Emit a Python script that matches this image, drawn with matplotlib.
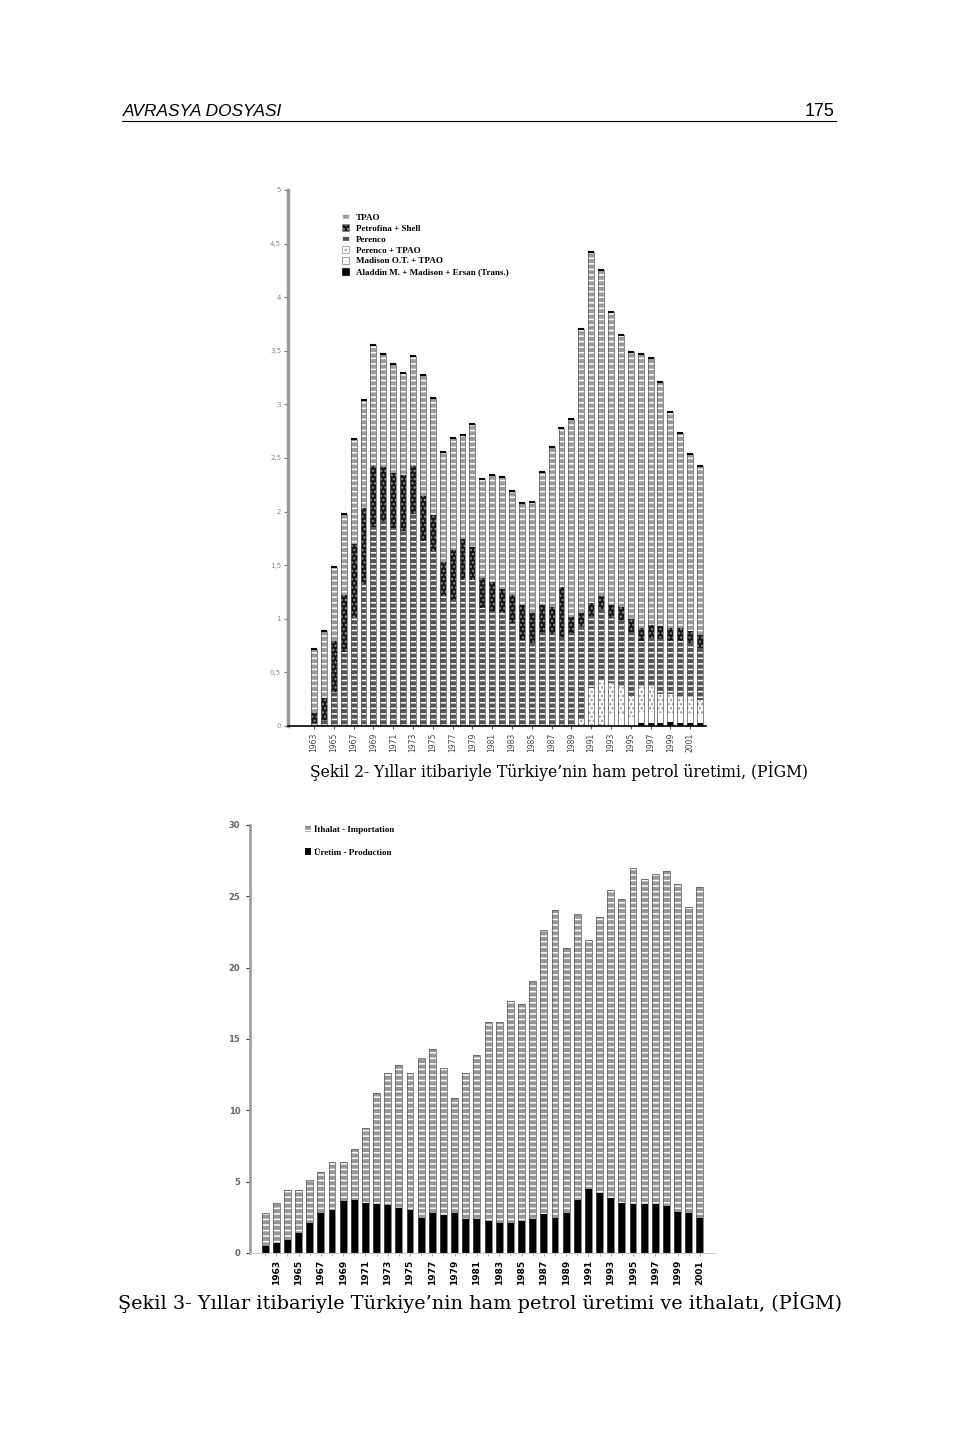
#!/usr/bin/env python3
import numpy as np
from matplotlib import pyplot as plt
from matplotlib.patches import Patch
from matplotlib.lines import Line2D

# ---- Şekil 2: crude oil production by company (million tons), 1963-2002
years1 = list(range(1963, 2003))
aladdin = [0]*33 + [0.03, 0.03, 0.03, 0.04, 0.03, 0.03, 0.03]
madison = [0]*30 + [0.10, 0.10, 0.08, 0.10, 0.10, 0.09, 0.08, 0.07, 0.07, 0.06]
perenco_tpao = [0]*27 + [0.06, 0.35, 0.43, 0.30, 0.26, 0.20, 0.23, 0.23, 0.18, 0.18, 0.16, 0.16, 0.15]
perenco = [0.03, 0.06, 0.32, 0.69, 1.02, 1.32, 1.86, 1.91, 1.85, 1.82,
           1.98, 1.73, 1.63, 1.21, 1.18, 1.36, 1.36, 1.10, 1.07, 1.05,
           0.96, 0.80, 0.77, 0.88, 0.86, 0.83, 0.87, 0.87, 0.68, 0.66,
           0.61, 0.63, 0.60, 0.43, 0.46, 0.51, 0.49, 0.53, 0.51, 0.49]
petrofina_shell = [0.09, 0.20, 0.47, 0.53, 0.68, 0.71, 0.57, 0.51, 0.51, 0.52,
                   0.45, 0.42, 0.34, 0.32, 0.46, 0.38, 0.31, 0.28, 0.27, 0.23,
                   0.26, 0.33, 0.28, 0.25, 0.25, 0.47, 0.15, 0.12, 0.12, 0.12,
                   0.12, 0.12, 0.12, 0.12, 0.12, 0.12, 0.12, 0.12, 0.12, 0.12]
tpao = [0.60, 0.63, 0.69, 0.76, 0.98, 1.01, 1.12, 1.05, 1.02, 0.95,
        1.02, 1.12, 1.09, 1.03, 1.05, 0.97, 1.15, 0.92, 1.00, 1.04,
        0.97, 0.95, 1.04, 1.24, 1.49, 1.48, 1.84, 2.65, 3.27, 3.04,
        2.73, 2.54, 2.49, 2.56, 2.49, 2.28, 2.02, 1.82, 1.65, 1.58]
# legend order, top entry first
legend1 = ['TPAO', 'Petrofina + Shell', 'Perenco', 'Perenco + TPAO',
           'Madison O.T. + TPAO', 'Aladdin M. + Madison + Ersan (Trans.)']

# ---- Şekil 3: production and imports (million tons), 1962-2001
years2 = list(range(1962, 2002))
production = [0.49, 0.72, 0.89, 1.42, 2.08, 2.83, 2.99, 3.64, 3.69, 3.53,
              3.41, 3.36, 3.18, 2.99, 2.48, 2.83, 2.66, 2.83, 2.36, 2.36,
              2.24, 2.13, 2.13, 2.24, 2.36, 2.71, 2.48, 2.83, 3.71, 4.46,
              4.22, 3.88, 3.53, 3.41, 3.41, 3.41, 3.29, 2.87, 2.78, 2.48]
total2 = [2.83, 3.53, 4.39, 4.39, 5.11, 5.68, 6.38, 6.38, 7.27, 8.74,
          11.19, 12.59, 13.17, 12.59, 13.64, 14.27, 12.99, 10.84, 12.59, 13.88,
          16.21, 16.21, 17.66, 17.47, 19.06, 22.63, 24.01, 21.35, 23.73, 21.91,
          23.55, 25.44, 24.79, 26.96, 26.23, 26.58, 26.77, 25.88, 24.25, 25.65]
legend2 = ['İthalat - Importation', 'Üretim - Production']

W, H = 960, 1432


def rect(l, t, r, b):
    return [l/W, 1 - b/H, (r - l)/W, (b - t)/H]


def fit(txt, width_px, renderer):
    w = txt.get_window_extent(renderer).width
    txt.set_fontsize(txt.get_fontsize() * width_px / w)


def main():
    plt.rcParams['hatch.linewidth'] = 1.1
    fig = plt.figure(figsize=(W/100, H/100), dpi=100)

    # header
    h1 = fig.text(123/W, 1 - 116/H, 'AVRASYA DOSYASI', ha='left', va='baseline',
                  family=['Liberation Sans Narrow', 'Liberation Sans'], style='italic', fontsize=12)
    h2 = fig.text(834/W, 1 - 116/H, '175', ha='right', va='baseline',
                  family=['Liberation Sans Narrow', 'Liberation Sans'], fontsize=12)
    fig.add_artist(Line2D([122/W, 836/W], [1 - 121/H, 1 - 121/H], color='black', lw=0.8))

    # ---------- chart 1 (stacked bottom to top)
    ax1 = fig.add_axes(rect(288, 190, 706, 726))
    x1 = np.arange(len(years1))
    styles = [
        (aladdin, dict(color='black', edgecolor='black')),
        (madison, dict(color='white', edgecolor='#777777')),
        (perenco_tpao, dict(color='white', edgecolor='#9a9a9a', hatch='....')),
        (perenco, dict(color='#555555', edgecolor='white', hatch='---')),
        (petrofina_shell, dict(color='#151515', edgecolor='#8a8a8a', hatch='....')),
        (tpao, dict(color='#9c9c9c', edgecolor='white', hatch='---')),
    ]
    bottom = np.zeros(len(x1))
    for vals, st in styles:
        vals = np.array(vals)
        ax1.bar(x1, vals, 0.6, bottom=bottom, linewidth=0, **st)
        bottom += vals
    ax1.bar(x1, bottom, 0.6, fill=False, edgecolor='#555555', linewidth=0.5)
    ax1.plot(x1, bottom, linestyle='none', marker='_', markersize=5, color='black', mew=1.5)

    ax1.set_xlim(-2.63, 39.6)
    ax1.set_ylim(0, 5)
    yt = np.arange(0, 5.01, 0.5)
    ax1.set_yticks(yt)
    ax1.set_yticklabels([f'{v:g}'.replace('.', ',') for v in yt])
    ax1.tick_params(axis='y', labelsize=5, labelcolor='#888888', color='#777777', length=3, pad=2)
    ax1.set_xticks(x1[::2])
    ax1.set_xticklabels([str(y) for y in years1[::2]], rotation=90, fontsize=5.5, color='#444444')
    ax1.tick_params(axis='x', length=2, pad=3, color='#555555')
    for s in ['top', 'right']:
        ax1.spines[s].set_visible(False)
    ax1.spines['left'].set_color('#999999')
    ax1.spines['left'].set_linewidth(2.5)
    ax1.spines['bottom'].set_color('black')
    ax1.spines['bottom'].set_linewidth(1.2)

    handles1 = [Patch(facecolor=st['color'], edgecolor=st['edgecolor'], hatch=st.get('hatch'), lw=0.5)
                for _, st in styles[::-1]]
    ax1.legend(handles1, legend1, loc='upper left', bbox_to_anchor=(337/W, 1 - 209/H),
               bbox_transform=fig.transFigure, frameon=False, handlelength=0.8, handleheight=0.8,
               handletextpad=0.8, labelspacing=0.25, borderpad=0,
               prop=dict(family='Liberation Serif', weight='bold', size=6.5))

    # ---------- chart 2
    ax2 = fig.add_axes(rect(250, 825, 715, 1253))
    x2 = np.arange(len(years2))
    imports = np.array(total2) - np.array(production)
    ax2.bar(x2, production, 0.62, color='black', linewidth=0)
    ax2.bar(x2, imports, 0.62, bottom=production, color='#979797', edgecolor='white',
            hatch='---', linewidth=0)
    ax2.bar(x2, total2, 0.62, fill=False, edgecolor='#555555', linewidth=0.5)
    ax2.set_xlim(-1.35, 40.35)
    ax2.set_ylim(0, 30)
    ax2.set_yticks(range(0, 31, 5))
    ax2.tick_params(axis='y', labelsize=6, labelcolor='#666666', color='#333333', length=3, pad=4)
    for lab in ax2.get_yticklabels():
        lab.set_fontweight('bold')
    ax2.set_xticks(x2[1::2])
    ax2.set_xticklabels([str(y) for y in years2[1::2]], rotation=90, fontsize=6.5,
                        fontweight='bold', color='black')
    ax2.set_xticks(x2, minor=True)
    ax2.tick_params(axis='x', which='both', length=2, pad=3, color='#aaaaaa')
    for s in ['top', 'right']:
        ax2.spines[s].set_visible(False)
    ax2.spines['left'].set_color('#a0a0a0')
    ax2.spines['left'].set_linewidth(2)
    ax2.spines['bottom'].set_color('#cccccc')
    ax2.spines['bottom'].set_linewidth(0.8)

    handles2 = [Patch(facecolor='#979797', edgecolor='white', hatch='---', lw=0),
                Patch(facecolor='black', edgecolor='black', lw=0)]
    ax2.legend(handles2, legend2, loc='upper left', bbox_to_anchor=(300/W, 1 - 820/H),
               bbox_transform=fig.transFigure, frameon=False, handlelength=0.7, handleheight=0.8,
               handletextpad=0.3, labelspacing=1.6, borderpad=0,
               prop=dict(family='Liberation Serif', weight='bold', size=6.5))

    # captions
    c1 = fig.text(559/W, 1 - 771/H, "Şekil 2- Yıllar itibariyle Türkiye’nin ham petrol üretimi, (PİGM)",
                  ha='center', va='center', family='DejaVu Serif', fontsize=12)
    c2 = fig.text(480.5/W, 1 - 1302/H,
                  "Şekil 3- Yıllar itibariyle Türkiye’nin ham petrol üretimi ve ithalatı, (PİGM)",
                  ha='center', va='center', family='DejaVu Serif', fontsize=12)

    r = fig.canvas.get_renderer()
    fit(h1, 159, r)
    fit(h2, 30, r)
    fit(c1, 498, r)
    fit(c2, 715, r)

    fig.savefig('out.png', dpi=100, facecolor='white')


if __name__ == '__main__':
    main()
